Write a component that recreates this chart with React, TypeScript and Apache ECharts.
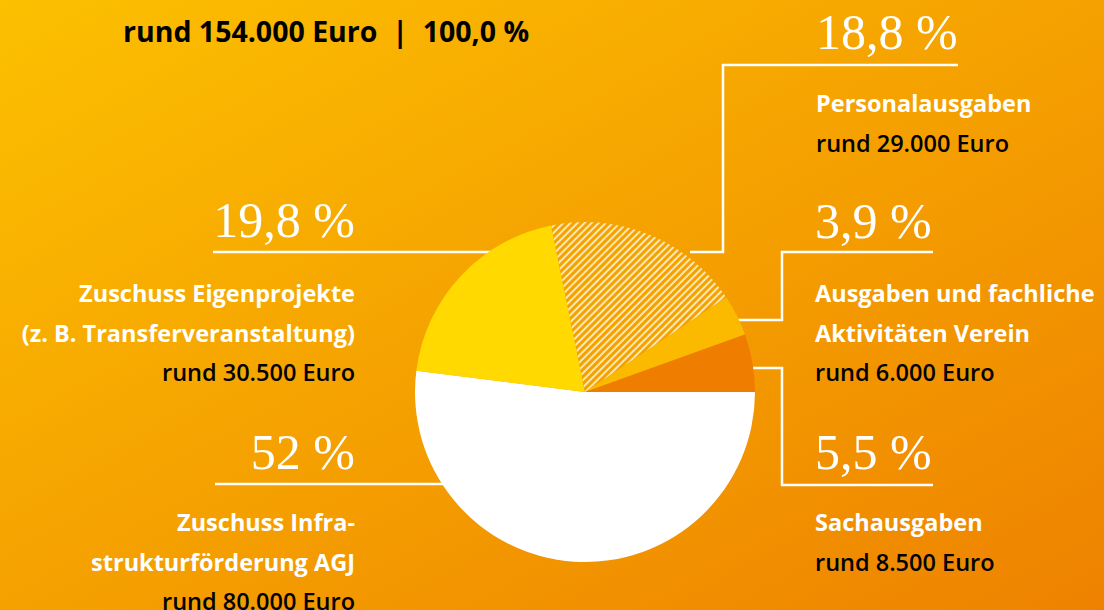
import React, { useEffect, useRef } from "react";
import * as echarts from "echarts";

const categories = [
  "Zuschuss Infrastrukturförderung AGJ",
  "Zuschuss Eigenprojekte",
  "Personalausgaben",
  "Ausgaben und fachliche Aktivitäten Verein",
  "Sachausgaben",
];
const percents = [52, 19.8, 18.8, 3.9, 5.5];
const percentLabels = ["52 %", "19,8 %", "18,8 %", "3,9 %", "5,5 %"];
const nameLines = [
  ["Zuschuss Infra-", "strukturförderung AGJ"],
  ["Zuschuss Eigenprojekte", "(z. B. Transferveranstaltung)"],
  ["Personalausgaben"],
  ["Ausgaben und fachliche", "Aktivitäten Verein"],
  ["Sachausgaben"],
];
const amountLabels = [
  "rund 80.000 Euro",
  "rund 30.500 Euro",
  "rund 29.000 Euro",
  "rund 6.000 Euro",
  "rund 8.500 Euro",
];
const totalLabel = "rund 154.000 Euro  |  100,0 %";

const sliceColors = ["#FFFFFF", "#FFD900", "#F5A200", "#FBB900", "#EF7D00"];

// annotation layout: text anchor x, percent center y, name first-row y, align
const labelLayout = [
  { x: 355, py: 452, ny: 522, align: "right" },
  { x: 355, py: 220, ny: 293, align: "right" },
  { x: 816, py: 32, ny: 103, align: "left" },
  { x: 815, py: 221, ny: 293, align: "left" },
  { x: 815, py: 452, ny: 522, align: "left" },
];

const leaderLines: number[][][] = [
  [[215, 484], [500, 484]],
  [[213, 252], [540, 252]],
  [[958, 65], [723, 65], [723, 252], [690, 252]],
  [[933, 252], [782, 252], [782, 320], [730, 320]],
  [[933, 485], [782, 485], [782, 368], [740, 368]],
];

const rowGap = 39.5;
const boldFont = '"Open Sans", "Noto Sans", sans-serif';
const serifFont = '"Liberation Serif", "DejaVu Serif", serif';

export default function App() {
  const ref = useRef<HTMLDivElement>(null);
  useEffect(() => {
    document.body.style.margin = "0";
    if (!ref.current) return;
    const chart = echarts.init(ref.current, undefined, { renderer: "svg" });

    const graphics: any[] = [];
    leaderLines.forEach((pts) => {
      graphics.push({
        type: "polyline",
        z: 0,
        shape: { points: pts },
        style: { stroke: "#FFFFFF", lineWidth: 2.5, fill: null },
        silent: true,
      });
    });
    labelLayout.forEach((l, i) => {
      graphics.push({
        type: "text",
        z: 5,
        x: l.x,
        y: l.py,
        style: {
          text: percentLabels[i],
          fill: "#FFFFFF",
          fontFamily: serifFont,
          fontSize: 50,
          fontWeight: 300,
          align: l.align,
          verticalAlign: "middle",
        },
      });
      const lines = nameLines[i];
      lines.forEach((t, j) => {
        graphics.push({
          type: "text",
          z: 5,
          x: l.x,
          y: l.ny + j * rowGap,
          style: {
            text: t,
            fill: "#FFFFFF",
            fontFamily: boldFont,
            fontSize: 23.5,
            fontWeight: 700,
            align: l.align,
            verticalAlign: "middle",
          },
        });
      });
      graphics.push({
        type: "text",
        z: 5,
        x: l.x,
        y: l.ny + lines.length * rowGap,
        style: {
          text: amountLabels[i],
          fill: "#000000",
          fontFamily: boldFont,
          fontSize: 23.5,
          fontWeight: 600,
          align: l.align,
          verticalAlign: "middle",
        },
      });
    });
    graphics.push({
      type: "text",
      z: 5,
      x: 123,
      y: 31,
      style: {
        text: totalLabel,
        fill: "#000000",
        fontFamily: boldFont,
        fontSize: 28.5,
        fontWeight: 700,
        align: "left",
        verticalAlign: "middle",
      },
    });

    chart.setOption({
      animation: false,
      backgroundColor: {
        type: "linear",
        x: 0,
        y: 0,
        x2: 1,
        y2: 1,
        colorStops: [
          { offset: 0, color: "#FCC000" },
          { offset: 1, color: "#EE8200" },
        ],
      },
      graphic: graphics,
      series: [
        {
          type: "pie",
          z: 2,
          center: [585, 392],
          radius: 170,
          startAngle: 0,
          clockwise: true,
          label: { show: false },
          labelLine: { show: false },
          emphasis: { disabled: true },
          data: categories.map((c, i) => ({
            name: c,
            value: percents[i],
            itemStyle: {
              color: sliceColors[i],
              decal:
                i === 2
                  ? {
                      symbol: "rect",
                      symbolSize: 1,
                      dashArrayX: [[1, 0]],
                      dashArrayY: [1.8, 2.6],
                      rotation: -Math.PI / 4,
                      color: "#FDE8B5",
                    }
                  : undefined,
            },
          })),
        },
      ],
    });
    return () => chart.dispose();
  }, []);
  return <div ref={ref} style={{ width: 1104, height: 610 }} />;
}
